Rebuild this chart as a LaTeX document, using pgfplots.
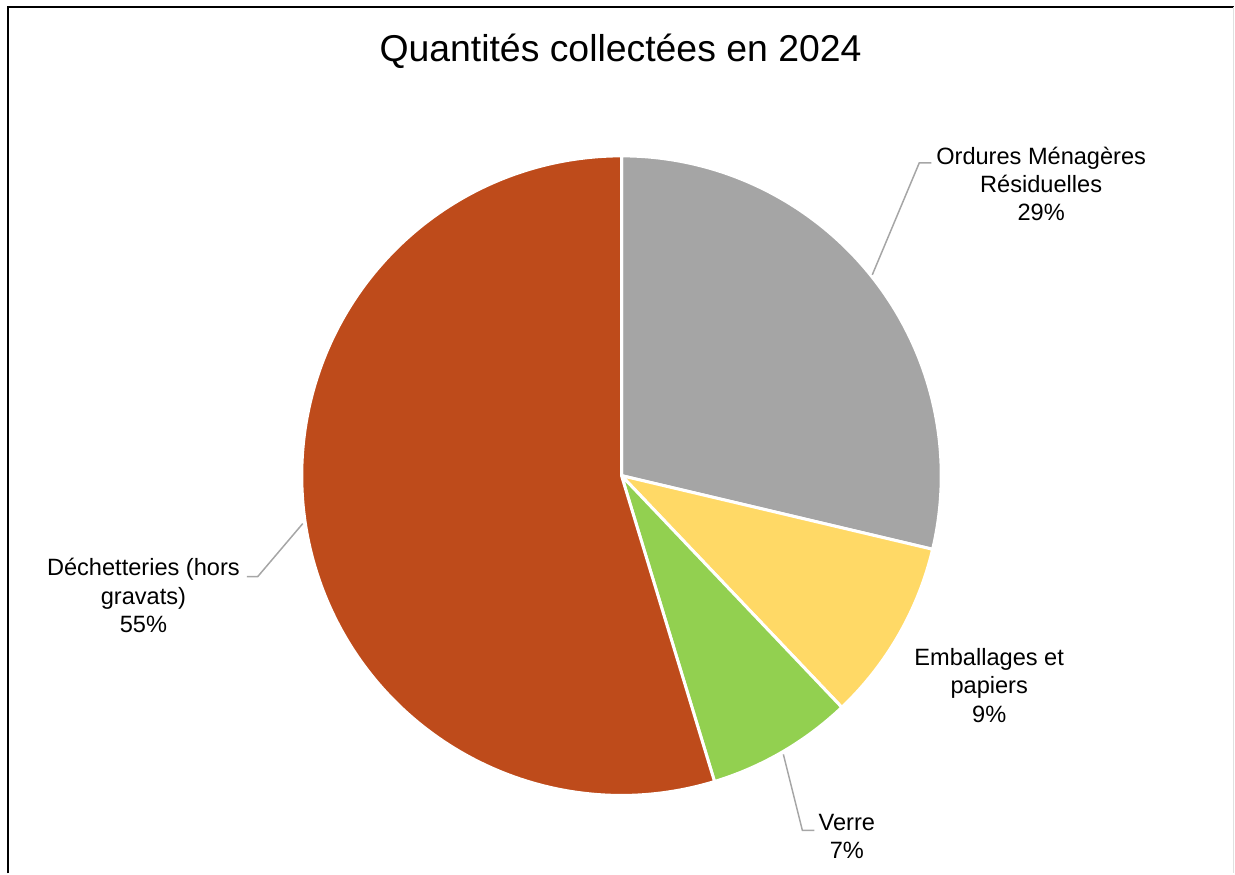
\documentclass[border=0pt]{standalone}
\usepackage{pgfplots}
\usepackage{pgfplotstable}
\pgfplotsset{compat=1.18}
\usepackage{fontspec}
\setmainfont{Liberation Sans}
\definecolor{cOMR}{HTML}{A5A5A5}
\definecolor{cEMB}{HTML}{FFD966}
\definecolor{cVER}{HTML}{92D050}
\definecolor{cDEC}{HTML}{BE4B1B}
\definecolor{cLead}{HTML}{A6A6A6}
\newcommand{\lab}{\fontsize{11.8}{14.3}\selectfont}
\newcommand{\ttl}{\fontsize{18.7}{22}\selectfont}
% shares of the collected quantities (percent), clockwise from 12 o'clock
\pgfplotstableread{
name value
OMR 28.7
EMB 9.2
VER 7.4
DEC 54.7
}\piedata
\begin{document}%
\begin{tikzpicture}
\pgfplotstablegetelem{0}{value}\of\piedata\let\vA\pgfplotsretval
\pgfplotstablegetelem{1}{value}\of\piedata\let\vB\pgfplotsretval
\pgfplotstablegetelem{2}{value}\of\piedata\let\vC\pgfplotsretval
\pgfplotstablegetelem{3}{value}\of\piedata\let\vD\pgfplotsretval
\pgfmathsetmacro{\tot}{\vA+\vB+\vC+\vD}
\pgfmathsetmacro{\aA}{90-(\vA/\tot)*360}
\pgfmathsetmacro{\aB}{\aA-(\vB/\tot)*360}
\pgfmathsetmacro{\aC}{\aB-(\vC/\tot)*360}
\pgfmathsetmacro{\aD}{\aC-(\vD/\tot)*360}
\begin{axis}[hide axis, scale only axis, x=0.5pt, y=0.5pt,
  xmin=0, xmax=1235, ymin=0, ymax=874, clip=false]
\path (axis cs:0,0) rectangle (axis cs:1235,874);
% frame
\draw[black, line width=1pt] (axis cs:8,0) -- (axis cs:8,867) -- (axis cs:1235,867);
\draw[black!12, line width=0.5pt] (axis cs:1234,867) -- (axis cs:1234,0);
% wedges
\filldraw[fill=cOMR, draw=white, line width=1.5pt] (axis cs:622,398) -- ++(90:160pt) arc[start angle=90, end angle=\aA, radius=160pt] -- cycle;
\filldraw[fill=cEMB, draw=white, line width=1.5pt] (axis cs:622,398) -- ++(\aA:160pt) arc[start angle=\aA, end angle=\aB, radius=160pt] -- cycle;
\filldraw[fill=cVER, draw=white, line width=1.5pt] (axis cs:622,398) -- ++(\aB:160pt) arc[start angle=\aB, end angle=\aC, radius=160pt] -- cycle;
\filldraw[fill=cDEC, draw=white, line width=1.5pt] (axis cs:622,398) -- ++(\aC:160pt) arc[start angle=\aC, end angle=\aD, radius=160pt] -- cycle;
% leader lines
\draw[cLead, line width=0.75pt] (axis cs:873,599) -- (axis cs:920,711) -- (axis cs:932,711);
\draw[cLead, line width=0.75pt] (axis cs:303,350) -- (axis cs:258,297) -- (axis cs:247,297);
\draw[cLead, line width=0.75pt] (axis cs:784,119) -- (axis cs:803,43) -- (axis cs:815,43);
% title
\node[anchor=base, font=\ttl] at (axis cs:621,812) {Quantités collectées en 2024};
% labels
\node[anchor=base, font=\lab] at (axis cs:1042,709) {Ordures Ménagères};
\node[anchor=base, font=\lab] at (axis cs:1042,681) {Résiduelles};
\node[anchor=base, font=\lab] at (axis cs:1042,653) {29\%};
\node[anchor=base, font=\lab] at (axis cs:143.5,298) {Déchetteries (hors};
\node[anchor=base, font=\lab] at (axis cs:143.5,269) {gravats)};
\node[anchor=base, font=\lab] at (axis cs:143.5,241) {55\%};
\node[anchor=base, font=\lab] at (axis cs:990,208) {Emballages et};
\node[anchor=base, font=\lab] at (axis cs:990,180) {papiers};
\node[anchor=base, font=\lab] at (axis cs:990,151) {9\%};
\node[anchor=base, font=\lab] at (axis cs:847.5,43) {Verre};
\node[anchor=base, font=\lab] at (axis cs:847.5,15) {7\%};
\end{axis}
\end{tikzpicture}%
\end{document}
